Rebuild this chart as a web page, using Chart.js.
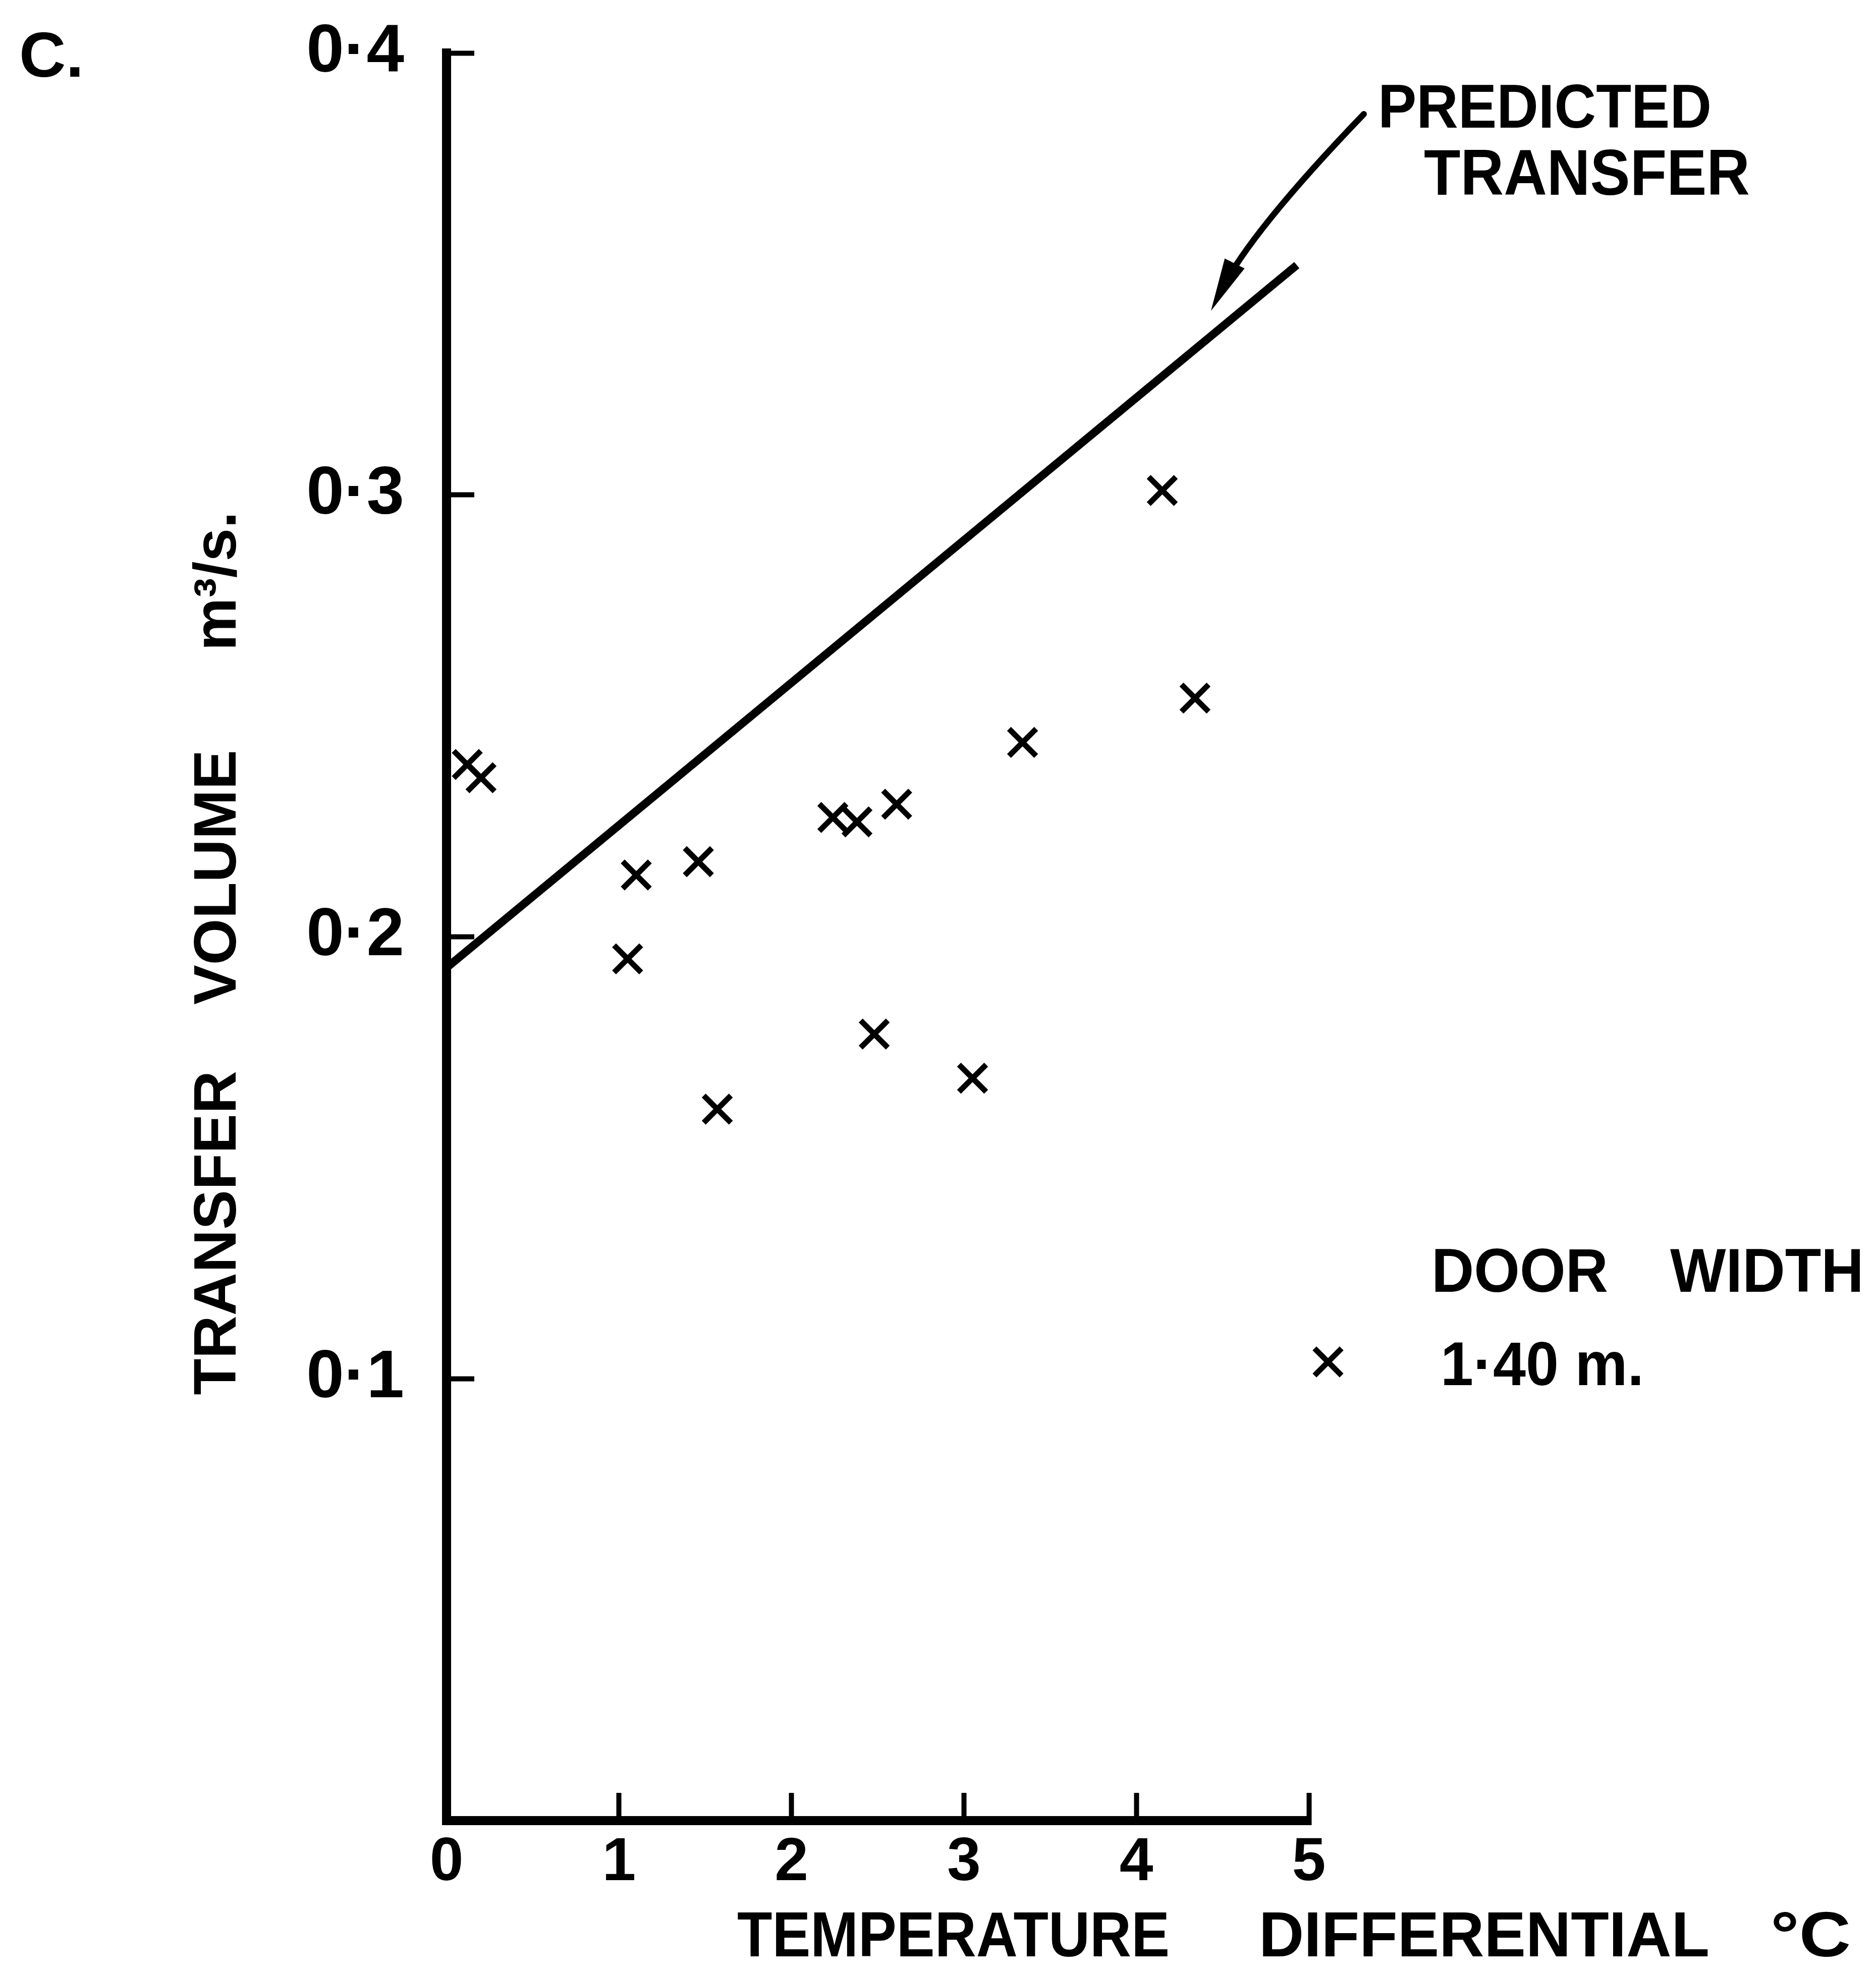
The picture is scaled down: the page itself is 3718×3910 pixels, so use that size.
<!DOCTYPE html>
<html>
<head>
<meta charset="utf-8">
<script src="https://cdn.jsdelivr.net/npm/chart.js@4.4.1/dist/chart.umd.min.js"></script>
<style>
  html, body { margin: 0; padding: 0; background: #fff; }
  #wrap { width: 3718px; height: 3910px; }
</style>
</head>
<body>
<div id="wrap"><canvas id="chart" width="3718" height="3910"></canvas></div>
<script>
// measured transfer, door width 1.40 m
const tempDiff    = [0.12, 0.20, 1.05, 1.10, 1.46, 1.57, 2.24, 2.38, 2.48, 2.61, 3.05, 3.34, 4.15, 4.34];
const transferVol = [0.239, 0.236, 0.195, 0.214, 0.217, 0.161, 0.227, 0.226, 0.178, 0.230, 0.168, 0.244, 0.301, 0.254];

// predicted transfer (straight line, end points)
const predictedX = [0, 4.93];
const predictedY = [0.193, 0.352];

const xTickValues = [0, 1, 2, 3, 4, 5];
const xTickLabels = ['0', '1', '2', '3', '4', '5'];
const yTickValues = [0, 0.1, 0.2, 0.3, 0.4];
const yTickLabels = ['', '0·1', '0·2', '0·3', '0·4'];

const FONT = "'Liberation Sans', Arial, sans-serif";
const INK = '#000';
const NB = '\u00a0';

// draw caps text squeezed into a measured box (hand lettering is narrow)
function boxText(ctx, s, x0, x1, capTop, capBottom) {
  const capH = capBottom - capTop;
  const size = capH / 0.716;
  ctx.font = `bold ${size}px ${FONT}`;
  const w = ctx.measureText(s).width;
  ctx.save();
  ctx.translate(x0, capBottom);
  ctx.scale((x1 - x0) / w, 1);
  ctx.fillText(s, 0, 0);
  ctx.restore();
}

// labels, arrow and key that sit outside the axes
const paperNotes = {
  id: 'paperNotes',
  afterDraw(chart) {
    const ctx = chart.ctx;
    ctx.save();
    ctx.fillStyle = INK;
    ctx.strokeStyle = INK;
    ctx.textAlign = 'left';
    ctx.textBaseline = 'alphabetic';

    boxText(ctx, 'C.', 38, 166, 62, 152);

    boxText(ctx, 'PREDICTED', 2731, 3392, 165, 253);
    boxText(ctx, 'TRANSFER', 2822, 3468, 295, 386);

    // curved pointer to the predicted line
    const p0 = [2703, 226], c = [2478, 460], tip = [2400, 616];
    ctx.lineWidth = 12;
    ctx.lineCap = 'round';
    ctx.beginPath();
    ctx.moveTo(p0[0], p0[1]);
    ctx.quadraticCurveTo(c[0], c[1], tip[0] + 20, tip[1] - 40);
    ctx.stroke();
    const dx = tip[0] - c[0], dy = tip[1] - c[1];
    const len = Math.hypot(dx, dy);
    const ux = dx / len, uy = dy / len;
    const bx = tip[0] - ux * 105, by = tip[1] - uy * 105;
    ctx.beginPath();
    ctx.moveTo(tip[0], tip[1]);
    ctx.lineTo(bx + uy * 22, by - ux * 22);
    ctx.lineTo(bx - uy * 22, by + ux * 22);
    ctx.closePath();
    ctx.fill();

    // key
    boxText(ctx, 'DOOR', 2837, 3187, 2472, 2560);
    boxText(ctx, 'WIDTH', 3310, 3694, 2472, 2560);
    const ds = chart.data.datasets[0];
    ctx.lineWidth = ds.pointBorderWidth;
    ctx.lineCap = 'butt';
    Chart.helpers.drawPoint(ctx, { pointStyle: ds.pointStyle, radius: ds.pointRadius, rotation: 0, borderWidth: ds.pointBorderWidth }, 2632, 2699);
    boxText(ctx, '1·40 m.', 2855, 3258, 2657, 2745);

    // x axis title
    boxText(ctx, 'TEMPERATURE', 1461, 2318, 3787, 3877);
    boxText(ctx, 'DIFFERENTIAL', 2495, 3388, 3787, 3877);
    boxText(ctx, '°C', 3509, 3668, 3787, 3877);
    ctx.restore();
  }
};

new Chart(document.getElementById('chart'), {
  type: 'scatter',
  data: {
    datasets: [
      {
        label: '1·40 m.',
        data: tempDiff.map((x, i) => ({ x, y: transferVol[i] })),
        pointStyle: 'crossRot',
        pointRadius: 38,
        pointBorderWidth: 11,
        borderColor: INK,
        backgroundColor: INK
      },
      {
        label: 'PREDICTED TRANSFER',
        data: predictedX.map((x, i) => ({ x, y: predictedY[i] })),
        showLine: true,
        borderColor: INK,
        borderWidth: 16,
        pointRadius: 0,
        borderCapStyle: 'butt'
      }
    ]
  },
  options: {
    responsive: false,
    animation: false,
    devicePixelRatio: 1,
    layout: { padding: { left: 0, top: 105, right: 1124, bottom: 0 } },
    plugins: {
      legend: { display: false },
      tooltip: { enabled: false }
    },
    scales: {
      x: {
        type: 'linear',
        min: 0,
        max: 5,
        afterBuildTicks: s => { s.ticks = xTickValues.map(v => ({ value: v })); },
        afterFit: s => { s.height = 302; s.paddingLeft = 0; s.paddingRight = 0; },
        border: { display: true, width: 18, color: INK },
        grid: { display: true, drawOnChartArea: false, drawTicks: true, tickLength: -55, tickWidth: 10, tickColor: INK },
        ticks: {
          padding: 68,
          color: INK,
          maxRotation: 0,
          autoSkip: false,
          font: { family: FONT, size: 120, weight: 'bold' },
          callback: (v, i) => xTickLabels[i]
        }
      },
      y: {
        type: 'linear',
        min: 0,
        max: 0.4,
        afterBuildTicks: s => { s.ticks = yTickValues.map(v => ({ value: v })); },
        afterFit: s => { s.width = 885; s.paddingTop = 0; s.paddingBottom = 0; },
        border: { display: true, width: 18, color: INK },
        grid: { display: true, drawOnChartArea: false, drawTicks: true, tickLength: -55, tickWidth: 10, tickColor: INK },
        title: {
          display: true,
          text: 'TRANSFER' + NB.repeat(4) + 'VOLUME' + NB.repeat(6) + 'm³/s.' + NB.repeat(2),
          color: INK,
          font: { family: FONT, size: 118, weight: 'bold' },
          padding: { top: 364, bottom: 0 }
        },
        ticks: {
          padding: 139,
          color: INK,
          autoSkip: false,
          font: { family: FONT, size: 134, weight: 'bold' },
          callback: (v, i) => yTickLabels[i]
        }
      }
    }
  },
  plugins: [paperNotes]
});
</script>
</body>
</html>
